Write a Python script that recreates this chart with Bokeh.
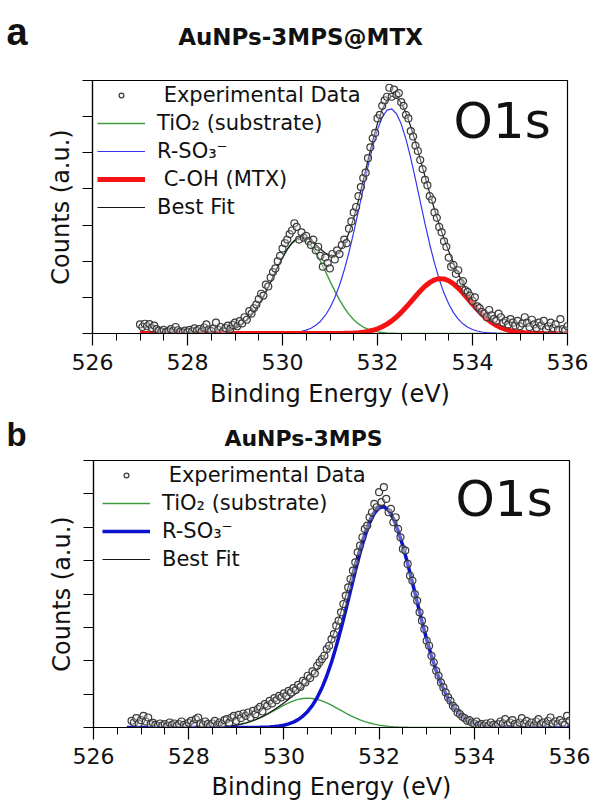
from bokeh.plotting import figure
from bokeh.models import Range1d, FixedTicker, Label, Legend, LegendItem
from bokeh.layouts import column
from bokeh.embed import file_html
from bokeh.resources import INLINE

FONT = "DejaVu Sans"

# ---------------- text ----------------
TITLE_A = "AuNPs-3MPS@MTX"
TITLE_B = "AuNPs-3MPS"
X_LABEL = "Binding Energy (eV)"
Y_LABEL = "Counts (a.u.)"
CORE = "O1s"
LEG_DATA = "Experimental Data"
LEG_TIO2 = "TiO\u2082 (substrate)"
LEG_SO3 = "R-SO\u2083\u207b"
LEG_COH = "C-OH (MTX)"
LEG_FIT = "Best Fit"

X_TICKS = [526, 528, 530, 532, 534, 536]
X_MINOR = [526.5, 527, 527.5, 528.5, 529, 529.5, 530.5, 531, 531.5,
           532.5, 533, 533.5, 534.5, 535, 535.5]
Y_TICKS_A = [0, 1, 2, 3, 4, 5, 6, 7]
Y_TICKS_B = [0, 1, 2, 3, 4, 5, 6, 7, 8]

# ---------------- fitted curves, panel a (binding energy grid, eV) ----------------
XA_FIT = [527.0, 527.1, 527.2, 527.3, 527.4, 527.5, 527.6, 527.7, 527.8, 527.9,
          528.0, 528.1, 528.2, 528.3, 528.4, 528.5, 528.6, 528.7, 528.8, 528.9,
          529.0, 529.1, 529.2, 529.3, 529.4, 529.5, 529.6, 529.7, 529.8, 529.9,
          530.0, 530.1, 530.2, 530.3, 530.4, 530.5, 530.6, 530.7, 530.8, 530.9,
          531.0, 531.1, 531.2, 531.3, 531.4, 531.5, 531.6, 531.7, 531.8, 531.9,
          532.0, 532.1, 532.2, 532.3, 532.4, 532.5, 532.6, 532.7, 532.8, 532.9,
          533.0, 533.1, 533.2, 533.3, 533.4, 533.5, 533.6, 533.7, 533.8, 533.9,
          534.0, 534.1, 534.2, 534.3, 534.4, 534.5, 534.6, 534.7, 534.8, 534.9,
          535.0, 535.1, 535.2, 535.3, 535.4, 535.5, 535.6, 535.7, 535.8, 535.9,
          536.0]

TIO2_A = [0, 0, 0, 0, 0, 0, 0, 0, 0, 0,
          0, 0, 0, 0.003, 0.006, 0.011, 0.020, 0.034, 0.056, 0.090,
          0.140, 0.211, 0.308, 0.436, 0.598, 0.796, 1.028, 1.287, 1.561, 1.839,
          2.098, 2.322, 2.493, 2.594, 2.618, 2.562, 2.432, 2.238, 1.997, 1.728,
          1.450, 1.180, 0.931, 0.713, 0.529, 0.380, 0.265, 0.179, 0.118, 0.075,
          0.046, 0.028, 0.016, 0.009, 0.005, 0.002, 0, 0, 0, 0,
          0, 0, 0, 0, 0, 0, 0, 0, 0, 0,
          0, 0, 0, 0, 0, 0, 0, 0, 0, 0,
          0, 0, 0, 0, 0, 0, 0, 0, 0, 0,
          0]

SO3_A = [0, 0, 0, 0, 0, 0, 0, 0, 0, 0,
         0, 0, 0, 0, 0, 0, 0, 0, 0, 0,
         0, 0, 0, 0, 0, 0, 0, 0, 0, 0.003,
         0.006, 0.011, 0.020, 0.034, 0.057, 0.092, 0.146, 0.226, 0.341, 0.499,
         0.711, 0.988, 1.335, 1.756, 2.249, 2.803, 3.403, 4.018, 4.621, 5.175,
         5.640, 5.983, 6.179, 6.213, 6.080, 5.793, 5.373, 4.851, 4.264, 3.649,
         3.039, 2.463, 1.945, 1.495, 1.118, 0.814, 0.577, 0.398, 0.268, 0.175,
         0.111, 0.069, 0.042, 0.024, 0.014, 0.008, 0.004, 0, 0, 0,
         0, 0, 0, 0, 0, 0, 0, 0, 0, 0,
         0]

COH_A = [0, 0, 0, 0, 0, 0, 0, 0, 0, 0,
         0, 0, 0, 0, 0, 0, 0, 0, 0, 0,
         0, 0, 0, 0, 0, 0, 0, 0, 0, 0,
         0, 0, 0, 0, 0, 0, 0, 0, 0, 0,
         0, 0, 0.003, 0.005, 0.009, 0.015, 0.024, 0.038, 0.059, 0.089,
         0.130, 0.186, 0.258, 0.348, 0.457, 0.584, 0.725, 0.876, 1.029, 1.176,
         1.307, 1.412, 1.485, 1.518, 1.510, 1.460, 1.374, 1.257, 1.118, 0.968,
         0.815, 0.667, 0.531, 0.411, 0.310, 0.227, 0.162, 0.112, 0.076, 0.050,
         0.032, 0.020, 0.012, 0.007, 0.004, 0, 0, 0, 0, 0,
         0]

FIT_A = [0, 0, 0, 0, 0, 0, 0, 0, 0, 0,
         0, 0, 0, 0.003, 0.006, 0.011, 0.020, 0.034, 0.056, 0.090,
         0.140, 0.211, 0.308, 0.436, 0.598, 0.796, 1.028, 1.287, 1.561, 1.842,
         2.104, 2.333, 2.513, 2.628, 2.675, 2.654, 2.578, 2.464, 2.338, 2.227,
         2.161, 2.168, 2.269, 2.474, 2.787, 3.198, 3.692, 4.235, 4.798, 5.339,
         5.816, 6.197, 6.453, 6.570, 6.542, 6.379, 6.098, 5.727, 5.293, 4.825,
         4.346, 3.875, 3.430, 3.013, 2.628, 2.274, 1.951, 1.655, 1.386, 1.143,
         0.926, 0.736, 0.573, 0.435, 0.324, 0.235, 0.166, 0.112, 0.076, 0.050,
         0.032, 0.020, 0.012, 0.007, 0.004, 0, 0, 0, 0, 0,
         0]

# ---------------- experimental points, panel a ----------------
XA_DATA = [527.00, 527.05, 527.10, 527.15, 527.20, 527.25, 527.30, 527.35, 527.40, 527.45,
           527.50, 527.55, 527.60, 527.65, 527.70, 527.75, 527.80, 527.85, 527.90, 527.95,
           528.00, 528.05, 528.10, 528.15, 528.20, 528.25, 528.30, 528.35, 528.40, 528.45,
           528.50, 528.55, 528.60, 528.65, 528.70, 528.75, 528.80, 528.85, 528.90, 528.95,
           529.00, 529.05, 529.10, 529.15, 529.20, 529.25, 529.30, 529.35, 529.40, 529.45,
           529.50, 529.55, 529.60, 529.65, 529.70, 529.75, 529.80, 529.85, 529.90, 529.95,
           530.00, 530.05, 530.10, 530.15, 530.20, 530.25, 530.30, 530.35, 530.40, 530.45,
           530.50, 530.55, 530.60, 530.65, 530.70, 530.75, 530.80, 530.85, 530.90, 530.95,
           531.00, 531.05, 531.10, 531.15, 531.20, 531.25, 531.30, 531.35, 531.40, 531.45,
           531.50, 531.55, 531.60, 531.65, 531.70, 531.75, 531.80, 531.85, 531.90, 531.95,
           532.00, 532.05, 532.10, 532.15, 532.20, 532.25, 532.30, 532.35, 532.40, 532.45,
           532.50, 532.55, 532.60, 532.65, 532.70, 532.75, 532.80, 532.85, 532.90, 532.95,
           533.00, 533.05, 533.10, 533.15, 533.20, 533.25, 533.30, 533.35, 533.40, 533.45,
           533.50, 533.55, 533.60, 533.65, 533.70, 533.75, 533.80, 533.85, 533.90, 533.95,
           534.00, 534.05, 534.10, 534.15, 534.20, 534.25, 534.30, 534.35, 534.40, 534.45,
           534.50, 534.55, 534.60, 534.65, 534.70, 534.75, 534.80, 534.85, 534.90, 534.95,
           535.00, 535.05, 535.10, 535.15, 535.20, 535.25, 535.30, 535.35, 535.40, 535.45,
           535.50, 535.55, 535.60, 535.65, 535.70, 535.75, 535.80, 535.85, 535.90, 535.95,
           536.00]

YA_DATA = [0.25, 0.18, 0.27, 0.20, 0.26, 0.15, 0.22, 0.12, 0.08, 0.05,
           0.10, 0.04, 0.06, 0.12, 0.07, 0.18, 0.09, 0.05, 0.03, 0.08,
           0.04, 0.10, 0.06, 0.14, 0.08, 0.12, 0.05, 0.16, 0.25, 0.11,
           0.07, 0.14, 0.30, 0.10, 0.18, 0.06, 0.15, 0.22, 0.12, 0.24,
           0.30, 0.20, 0.34, 0.28, 0.45, 0.38, 0.62, 0.55, 0.70, 0.80,
           0.95, 1.10, 1.05, 1.35, 1.30, 1.55, 1.70, 1.80, 2.00, 2.15,
           2.35, 2.50, 2.60, 2.75, 2.85, 3.05, 2.95, 2.60, 2.80, 2.65,
           2.70, 2.55, 2.45, 2.60, 2.30, 2.40, 2.15, 1.85, 2.10, 1.95,
           1.80, 2.20, 2.05, 2.30, 2.20, 2.45, 2.60, 2.50, 2.90, 3.10,
           3.35, 3.50, 3.80, 4.05, 4.30, 4.45, 4.85, 5.15, 5.40, 5.55,
           5.95, 6.05, 6.30, 6.45, 6.55, 6.80, 6.55, 6.75, 6.60, 6.65,
           6.40, 6.30, 6.05, 5.95, 5.60, 5.45, 5.20, 5.05, 4.80, 4.55,
           4.25, 4.10, 3.80, 3.70, 3.35, 3.20, 2.95, 2.80, 2.55, 2.40,
           2.10, 1.85, 1.90, 1.65, 1.75, 1.40, 1.45, 1.20, 1.15, 1.05,
           0.90, 1.00, 0.75, 0.70, 0.60, 0.55, 0.45, 0.65, 0.50, 0.40,
           0.35, 0.55, 0.45, 0.30, 0.35, 0.25, 0.40, 0.30, 0.22, 0.35,
           0.20, 0.28, 0.45, 0.30, 0.18, 0.38, 0.25, 0.15, 0.30, 0.22,
           0.35, 0.12, 0.20, 0.30, 0.15, 0.25, 0.10, 0.40, 0.12, 0.08,
           0.20]

# ---------------- fitted curves, panel b ----------------
XB_FIT = [526.7, 526.8, 526.9] + XA_FIT

TIO2_B = [0, 0, 0,
          0, 0, 0, 0, 0, 0, 0, 0, 0, 0,
          0, 0, 0.002, 0.004, 0.006, 0.010, 0.016, 0.024, 0.035, 0.051,
          0.072, 0.100, 0.135, 0.178, 0.229, 0.290, 0.358, 0.432, 0.511, 0.590,
          0.667, 0.737, 0.796, 0.842, 0.870, 0.880, 0.870, 0.842, 0.796, 0.737,
          0.667, 0.590, 0.511, 0.432, 0.358, 0.290, 0.229, 0.178, 0.135, 0.100,
          0.072, 0.051, 0.035, 0.024, 0.016, 0.010, 0.006, 0.004, 0.002, 0,
          0, 0, 0, 0, 0, 0, 0, 0, 0, 0,
          0, 0, 0, 0, 0, 0, 0, 0, 0, 0,
          0, 0, 0, 0, 0, 0, 0, 0, 0, 0,
          0]

SO3_B = [0, 0, 0,
         0, 0, 0, 0, 0, 0, 0, 0, 0, 0,
         0, 0, 0, 0, 0, 0, 0, 0, 0, 0,
         0, 0, 0, 0.002, 0.003, 0.006, 0.010, 0.017, 0.028, 0.044,
         0.069, 0.107, 0.160, 0.236, 0.341, 0.481, 0.665, 0.899, 1.190, 1.543,
         1.958, 2.433, 2.959, 3.522, 4.106, 4.686, 5.234, 5.723, 6.126, 6.419,
         6.586, 6.614, 6.502, 6.258, 5.896, 5.438, 4.910, 4.340, 3.756, 3.181,
         2.638, 2.142, 1.702, 1.324, 1.008, 0.752, 0.549, 0.392, 0.274, 0.188,
         0.126, 0.083, 0.053, 0.033, 0.020, 0.012, 0.007, 0.004, 0.002, 0,
         0, 0, 0, 0, 0, 0, 0, 0, 0, 0,
         0]

FIT_B = [0, 0, 0,
         0, 0, 0, 0, 0, 0, 0, 0, 0, 0,
         0, 0, 0.002, 0.004, 0.006, 0.010, 0.016, 0.024, 0.035, 0.051,
         0.072, 0.100, 0.135, 0.180, 0.232, 0.296, 0.368, 0.449, 0.539, 0.634,
         0.736, 0.844, 0.956, 1.078, 1.211, 1.361, 1.535, 1.741, 1.986, 2.280,
         2.625, 3.023, 3.470, 3.954, 4.464, 4.976, 5.463, 5.901, 6.261, 6.519,
         6.658, 6.665, 6.537, 6.282, 5.912, 5.448, 4.916, 4.344, 3.758, 3.181,
         2.638, 2.142, 1.702, 1.324, 1.008, 0.752, 0.549, 0.392, 0.274, 0.188,
         0.126, 0.083, 0.053, 0.033, 0.020, 0.012, 0.007, 0.004, 0.002, 0,
         0, 0, 0, 0, 0, 0, 0, 0, 0, 0,
         0]

# ---------------- experimental points, panel b ----------------
XB_DATA = [526.80, 526.85, 526.90, 526.95] + XA_DATA

YB_DATA = [0.20, 0.15, 0.28, 0.12,
           0.22, 0.35, 0.18, 0.30, 0.10, 0.14, 0.08, 0.05, 0.12, 0.06,
           0.10, 0.04, 0.15, 0.08, 0.12, 0.05, 0.10, 0.18, 0.08, 0.04,
           0.14, 0.20, 0.10, 0.25, 0.30, 0.12, 0.08, 0.18, 0.10, 0.05,
           0.12, 0.20, 0.08, 0.15, 0.10, 0.22, 0.25, 0.14, 0.30, 0.35,
           0.20, 0.38, 0.28, 0.42, 0.35, 0.45, 0.30, 0.50, 0.40, 0.55,
           0.62, 0.48, 0.70, 0.65, 0.80, 0.72, 0.88, 0.82, 0.95, 0.90,
           1.02, 0.95, 1.10, 1.05, 1.18, 1.12, 1.28, 1.22, 1.40, 1.35,
           1.55, 1.48, 1.68, 1.62, 1.85, 1.95, 2.05, 2.15, 2.35, 2.45,
           2.65, 2.80, 3.05, 3.20, 3.45, 3.70, 3.95, 4.20, 4.45, 4.70,
           4.95, 5.25, 5.45, 5.70, 5.95, 6.05, 6.30, 6.45, 6.70, 6.60,
           7.05, 6.75, 7.20, 6.85, 6.45, 6.55, 6.15, 6.30, 5.95, 5.70,
           5.35, 5.30, 4.90, 4.55, 4.40, 4.00, 3.80, 3.45, 3.20, 2.95,
           2.60, 2.45, 2.15, 1.95, 1.70, 1.55, 1.35, 1.20, 1.05, 0.90,
           0.80, 0.65, 0.58, 0.45, 0.40, 0.32, 0.28, 0.20, 0.22, 0.15,
           0.12, 0.18, 0.08, 0.10, 0.05, 0.12, 0.06, 0.15, 0.08, 0.04,
           0.10, 0.18, 0.12, 0.25, 0.08, 0.15, 0.22, 0.10, 0.06, 0.15,
           0.28, 0.12, 0.20, 0.08, 0.15, 0.05, 0.18, 0.25, 0.10, 0.15,
           0.08, 0.20, 0.30, 0.12, 0.18, 0.10, 0.22, 0.15, 0.08, 0.35,
           0.20]

# ---------------- colours ----------------
C_GREEN = "#3f9b3f"
C_BLUE_A = "#3535f0"
C_BLUE_B = "#0c12d0"
C_RED = "#f41212"
C_FIT = "#151515"
C_PT = "#3a3a3a"
C_TEXT = "#111111"


def header(height, title, title_xy, title_size, letter, letter_xy, letter_size):
    h = figure(width=593, height=height, output_backend="svg", toolbar_location=None,
               x_range=Range1d(0, 593), y_range=Range1d(height, 0),
               x_axis_type=None, y_axis_type=None, min_border=0)
    h.frame_align = False
    h.min_border_left = h.min_border_right = h.min_border_top = h.min_border_bottom = 0
    h.outline_line_color = None
    h.background_fill_color = "white"
    h.border_fill_color = "white"
    h.xgrid.visible = False
    h.ygrid.visible = False
    h.add_layout(Label(x=title_xy[0], y=title_xy[1], text=title, text_font=FONT,
                       text_font_style="bold", text_font_size=title_size,
                       text_align="center", text_baseline="middle", text_color=C_TEXT))
    h.add_layout(Label(x=letter_xy[0], y=letter_xy[1], text=letter,
                       text_font="Liberation Sans", text_font_style="bold",
                       text_font_size=letter_size, text_align="left",
                       text_baseline="middle", text_color=C_TEXT))
    return h


def base_figure(height, borders, yticks, label_standoff):
    left, right, top, bottom = borders
    p = figure(width=593, height=height, output_backend="svg", toolbar_location=None,
               x_range=Range1d(526, 536), y_range=Range1d(yticks[0], yticks[-1]),
               min_border_left=left, min_border_right=right,
               min_border_top=top, min_border_bottom=bottom,
               x_axis_label=X_LABEL, y_axis_label=Y_LABEL)
    p.frame_align = False
    p.background_fill_color = "white"
    p.border_fill_color = "white"
    p.outline_line_color = "black"
    p.outline_line_width = 1.2
    p.xgrid.visible = False
    p.ygrid.visible = False
    p.xaxis.ticker = FixedTicker(ticks=X_TICKS, minor_ticks=X_MINOR)
    p.yaxis.ticker = FixedTicker(ticks=yticks, minor_ticks=[])
    for ax in (p.xaxis[0], p.yaxis[0]):
        ax.axis_line_color = "black"
        ax.axis_line_width = 1.2
        ax.major_tick_line_color = "black"
        ax.major_tick_line_width = 1.2
        ax.minor_tick_line_color = "black"
        ax.minor_tick_line_width = 1.0
        ax.major_tick_in = 0
        ax.minor_tick_in = 0
        ax.axis_label_text_font = FONT
        ax.axis_label_text_font_style = "normal"
        ax.axis_label_text_color = C_TEXT
        ax.axis_label_text_font_size = "24px"
        ax.major_label_text_font = FONT
        ax.major_label_text_color = C_TEXT
        ax.major_label_text_font_size = "22px"
    p.xaxis.major_tick_out = 12
    p.xaxis.minor_tick_out = 7
    p.xaxis.major_label_standoff = 8
    p.xaxis.axis_label_standoff = label_standoff
    p.yaxis.major_tick_out = 10
    p.yaxis.minor_tick_out = 0
    p.yaxis.major_label_overrides = {t: "" for t in yticks}
    p.yaxis.major_label_standoff = 0
    p.yaxis.axis_label_standoff = 8
    return p


def add_core_label(p, pos):
    p.add_layout(Label(x=pos[0], y=pos[1], x_units="screen", y_units="screen",
                       text=CORE, text_font=FONT, text_font_size="50px",
                       text_align="left", text_baseline="middle", text_color=C_TEXT))


def add_legend(p, items, loc):
    leg = Legend(items=items, location=loc, orientation="vertical",
                 background_fill_alpha=0, border_line_alpha=0,
                 label_text_font=FONT, label_text_font_size="21px",
                 label_text_color=C_TEXT,
                 glyph_width=48, glyph_height=12, label_height=12,
                 label_standoff=12, spacing=4, padding=0, margin=0)
    p.add_layout(leg)


# ---------------- panel a ----------------
ha = header(60, TITLE_A, (300, 36), "23px", "a", (6, 31), "38px")
pa = base_figure(355, (92, 26, 20, 82), Y_TICKS_A, 7)
ga = pa.line(XA_FIT, TIO2_A, line_color=C_GREEN, line_width=1.4)
ba = pa.line(XA_FIT, SO3_A, line_color=C_BLUE_A, line_width=1.2)
fa = pa.line(XA_FIT, FIT_A, line_color=C_FIT, line_width=1.2)
ra = pa.line(XA_FIT, COH_A, line_color=C_RED, line_width=5)
da = pa.scatter(XA_DATA, YA_DATA, marker="circle", size=7, line_color=C_PT,
                line_width=1.2, fill_color="#f0f0f0", fill_alpha=0.35)
add_core_label(pa, (361, 213))
add_legend(pa, [LegendItem(label=" " + LEG_DATA, renderers=[da]),
                LegendItem(label=LEG_TIO2, renderers=[ga]),
                LegendItem(label=LEG_SO3, renderers=[ba]),
                LegendItem(label=" " + LEG_COH, renderers=[ra]),
                LegendItem(label=LEG_FIT, renderers=[fa])], (5, 114))

# ---------------- panel b ----------------
hb = header(38, TITLE_B, (303, 23), "22px", "b", (6, 19), "33px")
pb = base_figure(354, (93, 24, 7, 80), Y_TICKS_B, 6)
gb = pb.line(XB_FIT, TIO2_B, line_color=C_GREEN, line_width=1.4)
fb = pb.line(XB_FIT, FIT_B, line_color=C_FIT, line_width=1.2)
bb = pb.line(XB_FIT, SO3_B, line_color=C_BLUE_B, line_width=3.5)
db = pb.scatter(XB_DATA, YB_DATA, marker="circle", size=7, line_color=C_PT,
                line_width=1.2, fill_color="#f0f0f0", fill_alpha=0.35)
add_core_label(pb, (362, 229))
add_legend(pb, [LegendItem(label=" " + LEG_DATA, renderers=[db]),
                LegendItem(label=LEG_TIO2, renderers=[gb]),
                LegendItem(label=LEG_SO3, renderers=[bb]),
                LegendItem(label=LEG_FIT, renderers=[fb])], (9, 156))

layout = column(ha, pa, hb, pb, spacing=0)
open("out.html", "w").write(file_html(layout, INLINE))
